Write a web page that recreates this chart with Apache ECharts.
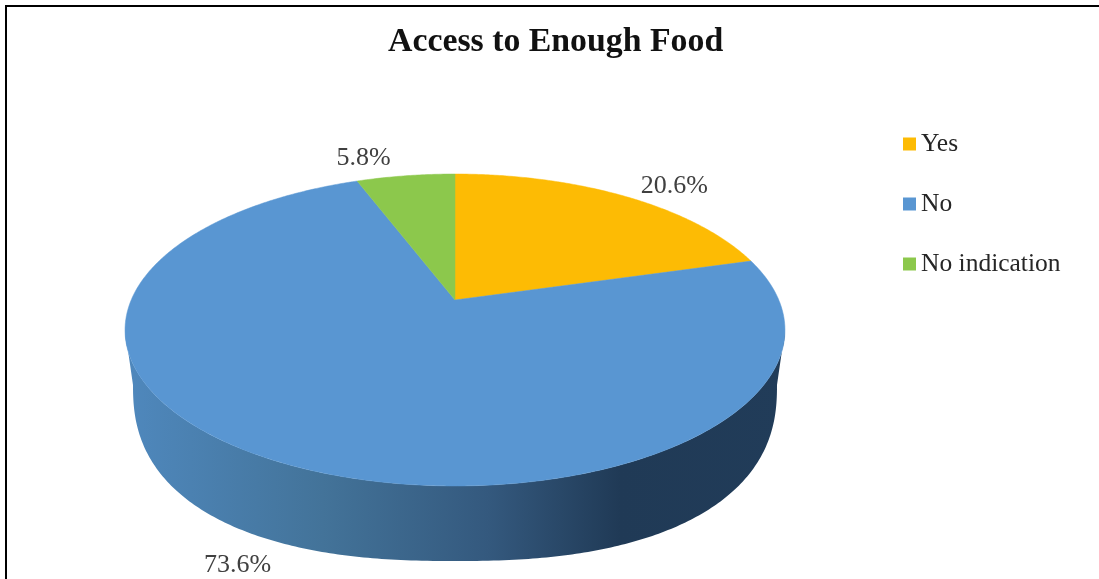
<!DOCTYPE html>
<html><head><meta charset="utf-8">
<style>html,body{margin:0;padding:0;background:#fff}#c{width:1099px;height:579px;filter:blur(0.5px)}</style>
<script src="https://cdn.jsdelivr.net/npm/echarts@6/dist/echarts.min.js"></script>
</head><body><div id="c"></div>
<script>
const chartTitle = 'Access to Enough Food';
const categories = ['Yes', 'No', 'No indication'];
const shares = [20.6, 73.6, 5.8];
const labelTexts = ['20.6%', '73.6%', '5.8%'];
const sliceColors = ['#fdbb04', '#5996d2', '#8cc84c'];

const FONT = '"Liberation Serif","Times New Roman",serif';
const CX = 455, CY = 300, P = -0.1923, AY = 150.2, BX = 323.8;
const BOT = {cy: 385, a: 322, b: 176, n: 2.4};
const labelOffset = [[50, -10], [-42, 103], [-42, -18]];

function project(u, v) {
  const w = 1 + P * v;
  return [CX + BX * u / w, CY + AY * v / w];
}
const total = shares.reduce((a, b) => a + b, 0);
const starts = [];
shares.reduce((acc, s, i) => { starts[i] = acc; return acc + s; }, 0);
function rim(deg) { // clockwise from top
  const r = deg * Math.PI / 180;
  return project(Math.sin(r), -Math.cos(r));
}
function sliceRender(i) {
  return function () {
    const a0 = starts[i] / total * 360, a1 = (starts[i] + shares[i]) / total * 360;
    const pts = [project(0, 0)];
    const n = Math.max(8, Math.ceil((a1 - a0) * 2));
    for (let k = 0; k <= n; k++) pts.push(rim(a0 + (a1 - a0) * k / n));
    const children = [];
    if (categories[i] === 'No') {
      const t0 = Math.asin(-P), wall = [];
      for (let k = 0; k <= 160; k++) {
        const t = t0 + (Math.PI - 2 * t0) * k / 160;
        wall.push(project(Math.cos(t), Math.sin(t)));
      }
      for (let k = 0; k <= 240; k++) {
        const t = Math.PI * k / 240;
        const c = -Math.cos(t), s = Math.sin(t), e = 2 / BOT.n;
        wall.push([CX + BOT.a * Math.sign(c) * Math.pow(Math.abs(c), e), BOT.cy + BOT.b * Math.pow(s, e)]);
      }
      children.push({type: 'polygon', shape: {points: wall}, style: {fill: {
        type: 'linear', x: 0, y: 0, x2: 1, y2: 0,
        colorStops: [
          {offset: 0, color: '#4f88bd'},
          {offset: 0.3, color: '#437399'},
          {offset: 0.55, color: '#34597e'},
          {offset: 0.75, color: '#203a56'},
          {offset: 1, color: '#213c59'}
        ]}}});
    }
    children.push({type: 'polygon', shape: {points: pts}, style: {fill: sliceColors[i], stroke: sliceColors[i], lineWidth: 0.5}});
    const m = rim((a0 + a1) / 2);
    children.push({type: 'text', z2: 10, style: {
      text: labelTexts[i], x: m[0] + labelOffset[i][0], y: m[1] + labelOffset[i][1],
      align: 'center', verticalAlign: 'middle', fill: '#404040', font: '26px ' + FONT}});
    return {type: 'group', children};
  };
}
const chart = echarts.init(document.getElementById('c'), null, {renderer: 'canvas'});
chart.setOption({
  animation: false,
  backgroundColor: '#ffffff',
  title: {text: chartTitle, left: 383, top: 20,
    textStyle: {fontFamily: FONT, fontWeight: 'bold', fontSize: 33.8, color: '#111111'}},
  legend: {orient: 'vertical', left: 898, top: 126, itemWidth: 13, itemHeight: 13, itemGap: 34,
    icon: 'rect', selectedMode: false, data: categories,
    textStyle: {fontFamily: FONT, fontSize: 25.5, color: '#262626'}},
  graphic: [
    {type: 'rect', shape: {x: 5, y: 5, width: 2, height: 574}, style: {fill: '#000'}},
    {type: 'rect', shape: {x: 5, y: 5, width: 1094, height: 2}, style: {fill: '#000'}}
  ],
  series: categories.map((name, i) => ({
    type: 'custom', name, coordinateSystem: 'none', silent: true,
    itemStyle: {color: sliceColors[i]},
    renderItem: sliceRender(i), data: [shares[i]]
  }))
});
</script></body></html>
